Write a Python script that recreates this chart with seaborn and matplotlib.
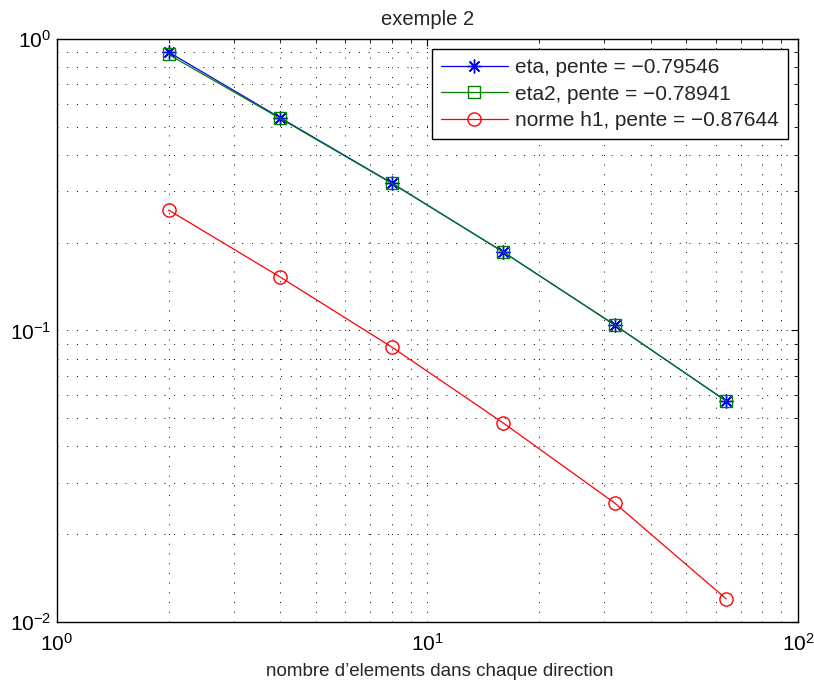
import numpy as np
import pandas as pd
import matplotlib
matplotlib.use("Agg")
import matplotlib.pyplot as plt
import seaborn as sns

# values
n_elem = [2, 4, 8, 16, 32, 64]
eta = [0.902, 0.537, 0.321, 0.186, 0.1045, 0.0573]
eta2 = [0.885, 0.534, 0.320, 0.186, 0.1045, 0.0573]
norme_h1 = [0.259, 0.1526, 0.0878, 0.0482, 0.0256, 0.0120]

labels = ["eta, pente = \u22120.79546",
          "eta2, pente = \u22120.78941",
          "norme h1, pente = \u22120.87644"]

sns.set_style("white")
plt.rcParams["font.family"] = ["Liberation Sans", "DejaVu Sans"]
plt.rcParams["mathtext.fontset"] = "custom"
plt.rcParams["mathtext.rm"] = "Liberation Sans"
plt.rcParams["mathtext.it"] = "Liberation Sans"

fig = plt.figure(figsize=(8.14, 6.90), dpi=100)
ax = fig.add_axes([0.0700, 0.0986, 0.9103, 0.8449])

df = pd.DataFrame({"n": n_elem, "eta": eta, "eta2": eta2, "h1": norme_h1})

sns.lineplot(data=df, x="n", y="eta", ax=ax, color="blue", marker=(8, 2, 0),
             markersize=10, markeredgewidth=1, markeredgecolor="blue",
             lw=0.9, label=labels[0])
sns.lineplot(data=df, x="n", y="eta2", ax=ax, color="green", marker="s",
             markersize=8.5, markerfacecolor="none", markeredgecolor="green",
             markeredgewidth=1, lw=0.9, label=labels[1])
sns.lineplot(data=df, x="n", y="h1", ax=ax, color="red", marker="o",
             markersize=9.5, markerfacecolor="none", markeredgecolor="red",
             markeredgewidth=1, lw=0.9, label=labels[2])

ax.set_xscale("log")
ax.set_yscale("log")
ax.set_xlim(1, 100)
ax.set_ylim(0.01, 1)

ax.grid(True, which="both", color="black", linestyle=(0, (1, 9)), lw=0.7)
ax.tick_params(which="both", direction="in", top=True, right=True,
               labelsize=15, colors="black")
ax.tick_params(axis="x", which="major", pad=8)
ax.tick_params(axis="y", which="major", pad=4)
ax.tick_params(which="major", length=5)
ax.tick_params(which="minor", length=3)
for s in ax.spines.values():
    s.set_color("black")
    s.set_linewidth(1)

ax.set_title("exemple 2", fontsize=14.5, pad=10)
ax.set_xlabel("nombre d\u2019elements dans chaque direction", fontsize=13.5,
              labelpad=6)
ax.xaxis.label.set_x(0.517)
ax.set_ylabel("")

leg = ax.legend(loc="upper right", fontsize=15, frameon=True, fancybox=False,
                edgecolor="black", framealpha=1, borderpad=0.45,
                handlelength=3.2, handletextpad=0.35, labelspacing=0.35,
                borderaxespad=0, bbox_to_anchor=(0.9865, 0.983))
leg.get_frame().set_linewidth(1)

fig.savefig("out.png", dpi=100)
